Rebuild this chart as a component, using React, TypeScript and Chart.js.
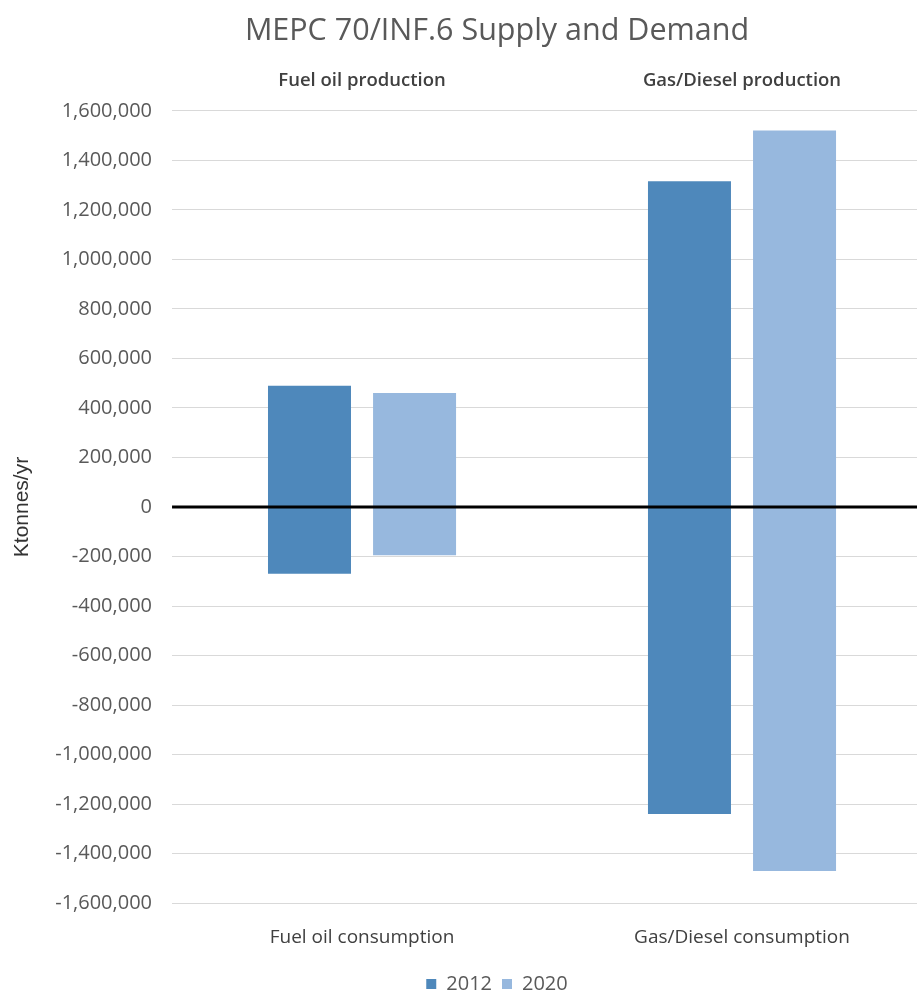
import React, { useEffect, useRef } from 'react';
import { Chart, registerables } from 'chart.js';

Chart.register(...registerables);

// Category labels: production shown along the top, consumption along the bottom
const productionLabels = ['Fuel oil production', 'Gas/Diesel production'];
const consumptionLabels = ['Fuel oil consumption', 'Gas/Diesel consumption'];

// Ktonnes per year
const production2012 = [490000, 1315000];
const production2020 = [460000, 1520000];
const consumption2012 = [-270000, -1240000];
const consumption2020 = [-195000, -1470000];

const years = ['2012', '2020'];
const yearColors = ['#4e88bb', '#97b8de'];

const fmt = (v: number) => {
  const s = Math.abs(v).toLocaleString('en-US');
  return v < 0 ? '-' + s : s;
};

// Bold zero line drawn above the bars
const zeroLine = {
  id: 'zeroLine',
  afterDatasetsDraw(chart: any) {
    const { ctx, chartArea, scales } = chart;
    const y = scales.y.getPixelForValue(0);
    ctx.save();
    ctx.strokeStyle = '#000000';
    ctx.lineWidth = 3;
    ctx.beginPath();
    ctx.moveTo(chartArea.left, y);
    ctx.lineTo(chart.width, y);
    ctx.stroke();
    ctx.restore();
  },
};

export default function App() {
  const ref = useRef<HTMLCanvasElement>(null);

  useEffect(() => {
    document.body.style.margin = '0';
    const canvas = ref.current;
    if (!canvas) return;
    const chart = new Chart(canvas, {
      type: 'bar',
      data: {
        labels: consumptionLabels,
        datasets: [
          { label: years[0], data: production2012, backgroundColor: yearColors[0], stack: 'y2012' },
          { label: years[1], data: production2020, backgroundColor: yearColors[1], stack: 'y2020' },
          { label: years[0] + ' consumption', data: consumption2012, backgroundColor: yearColors[0], stack: 'y2012' },
          { label: years[1] + ' consumption', data: consumption2020, backgroundColor: yearColors[1], stack: 'y2020' },
        ],
      },
      options: {
        responsive: false,
        animation: false,
        layout: { padding: { left: 0, right: 0, top: 6, bottom: 0 } },
        datasets: {
          bar: { categoryPercentage: 0.553, barPercentage: 0.79 },
        },
        plugins: {
          title: {
            display: true,
            text: 'MEPC 70/INF.6 Supply and Demand',
            color: '#595959',
            font: { family: 'Open Sans', size: 30.5, weight: 'normal' },
            padding: { top: 7, bottom: 9 },
          },
          legend: {
            position: 'bottom',
            labels: {
              boxWidth: 10,
              boxHeight: 10,
              color: '#595959',
              font: { family: 'Open Sans', size: 20 },
              filter: (item: any) => years.includes(item.text),
            },
          },
          tooltip: { enabled: false },
        },
        scales: {
          x: {
            type: 'category',
            position: 'bottom',
            stacked: true,
            grid: { display: false },
            border: { display: false },
            ticks: { color: '#404040', font: { family: 'Open Sans', size: 19 }, padding: 15 },
          },
          x2: {
            type: 'category',
            position: 'top',
            labels: productionLabels,
            grid: { display: false },
            border: { display: false },
            ticks: { color: '#404040', font: { family: 'Open Sans', size: 18.5, weight: 600 }, padding: 11 },
          },
          y: {
            stacked: true,
            min: -1600000,
            max: 1600000,
            border: { display: false },
            grid: {
              color: (c: any) => (c.tick && c.tick.value === 0 ? 'rgba(0,0,0,0)' : '#d9d9d9'),
              lineWidth: 1,
              drawTicks: false,
            },
            ticks: {
              stepSize: 200000,
              color: '#595959',
              font: { family: 'Open Sans', size: 20 },
              padding: 20,
              callback: (v: any) => fmt(Number(v)),
            },
            title: {
              display: true,
              text: 'Ktonnes/yr',
              color: '#333333',
              font: { family: 'Liberation Sans', size: 21 },
              padding: { top: 10, bottom: 0 },
            },
          },
          // empty right-hand margin so the plot stops short of the title's full width
          yRight: {
            type: 'linear',
            position: 'right',
            display: true,
            grid: { display: false },
            border: { display: false },
            ticks: { display: false },
            afterFit: (s: any) => {
              s.width = 62;
            },
          },
        },
      },
      plugins: [zeroLine],
    });
    return () => chart.destroy();
  }, []);

  return (
    <div style={{ width: 917, height: 991, overflow: 'hidden' }}>
      <canvas ref={ref} width={994} height={1004} style={{ display: 'block' }} />
    </div>
  );
}
